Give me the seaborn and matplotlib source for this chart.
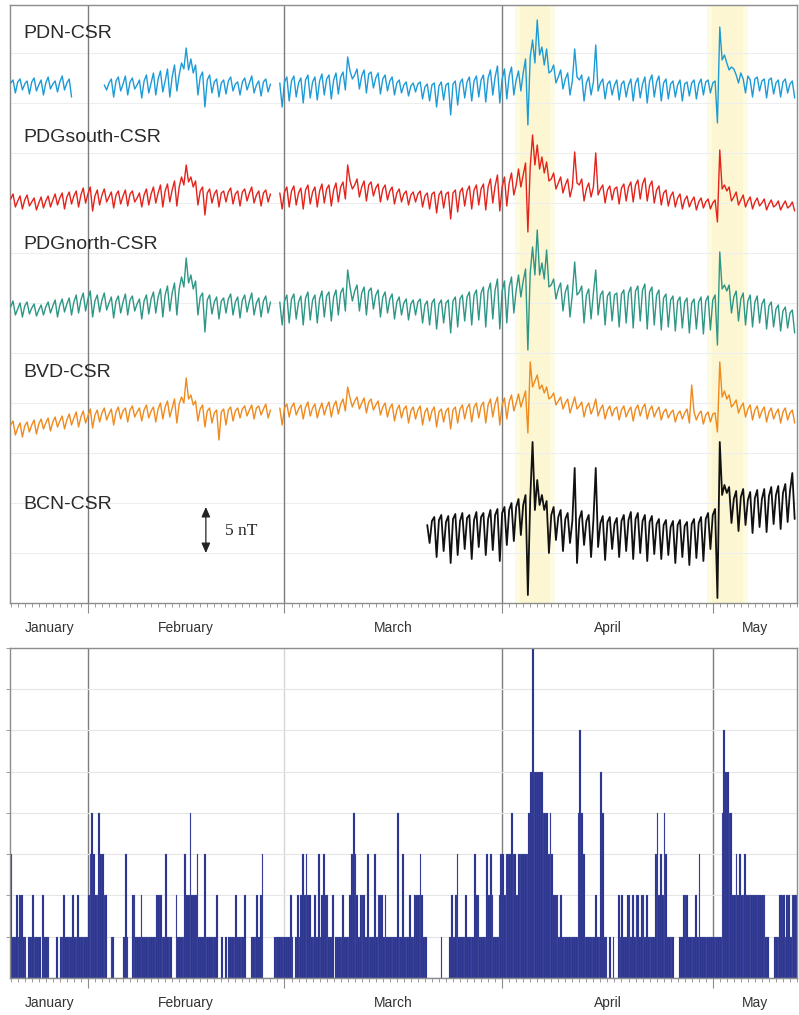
import numpy as np
import pandas as pd
import matplotlib
matplotlib.use("Agg")
import matplotlib.pyplot as plt
import seaborn as sns

nan = np.nan

# ---------------------------------------------
# DATA  (day 0 = 21 January, record ends mid May)
# ---------------------------------------------
MONTHS       = ["January", "February", "March", "April", "May"]
MONTH_STARTS = [0, 11, 39, 70, 100, 112]
STORMS       = [(72.6, 76.8), (99.9, 104.3)]     # highlighted disturbed periods (days)

STATIONS = ["PDN-CSR", "PDGsouth-CSR", "PDGnorth-CSR", "BVD-CSR", "BCN-CSR"]

# field residuals in nT, three samples per day (00h, 08h, 16h), one line = one week
pdn = [
    (0.2, 0.5, -0.8), (0.3, 0.6, -0.5), (0.1, 0.4, -0.9), (0.3, 0.7, -0.6), (0.0, 0.5, -1.0), (0.2, 0.8, -0.4), (0.1, 0.4, -0.7),
    (0.3, 0.9, -0.5), (0.2, 0.6, -1.2), (nan, nan, nan), (nan, nan, nan), (nan, nan, nan), (nan, nan, nan), (nan, 0.0, -0.5),
    (0.2, 0.6, -1.2), (0.4, 0.8, -0.6), (0.1, 0.9, -1.0), (0.3, 0.7, -0.4), (0.0, 0.5, -1.3), (0.4, 1.0, -0.8), (0.2, 1.2, -1.0),
    (0.6, 1.4, -0.7), (0.4, 1.6, -1.2), (0.8, 2.0, -0.6), (1.0, 2.2, 1.6), (3.7, 1.5, 2.6), (1.2, 2.0, -1.0), (0.8, 1.3, -2.2),
    (0.5, 1.0, -0.8), (0.3, 0.6, -1.2), (0.2, 0.5, -0.9), (0.4, 0.8, -0.6), (0.1, 0.3, -1.0), (0.3, 0.7, -0.5), (0.2, 0.9, -0.8),
    (0.0, 0.4, -1.1), (0.3, 0.6, -0.7), (0.1, nan, nan), (nan, 0.2, -2.2), (0.3, 0.8, -1.6), (0.4, 0.9, -1.2), (0.2, 0.7, -1.8),
    (0.5, 1.0, -1.3), (0.3, 0.8, -1.5), (0.4, 1.1, -1.0), (0.6, 1.0, -1.4), (0.5, 1.2, -0.9), (0.8, 1.3, -0.5), (2.8, 1.4, 0.6),
    (1.0, 1.6, -0.4), (0.9, 1.5, -0.8), (1.1, 1.3, -0.3), (0.7, 1.2, -0.9), (0.6, 1.0, -0.6), (0.4, 0.8, -1.0), (0.2, 0.5, -0.8),
    (0.0, 0.3, -1.1), (-0.1, 0.2, -0.7), (0.1, 0.3, -1.4), (-0.2, 0.1, -1.6), (0.0, 0.2, -2.2), (-0.1, 0.3, -1.5), (0.0, 0.2, -3.0),
    (0.1, 0.4, -2.0), (0.2, 0.6, -1.3), (0.3, 0.8, -1.6), (0.4, 0.9, -1.2), (0.5, 1.0, -1.7), (0.7, 1.5, -1.0), (0.8, 1.9, -1.8),
    (0.6, 1.6, -1.4), (0.9, 1.8, -1.0), (0.5, 1.4, -0.6), (1.2, 2.6, -4.0), (2.8, 4.5, 2.2), (6.5, 3.0, 3.8), (2.0, 3.6, 1.2),
    (1.4, 2.0, 0.2), (0.8, 1.5, -0.4), (0.6, 1.2, -1.0), (0.4, 3.6, 0.8), (0.5, 1.0, -1.6), (0.2, 0.8, -1.0), (0.3, 4.0, -0.6),
    (0.2, 0.6, -1.4), (0.1, 0.4, -1.0), (0.0, 0.5, -1.5), (0.1, 0.4, -1.2), (0.0, 0.6, -1.6), (0.2, 0.7, -1.3), (0.1, 0.8, -1.8),
    (0.4, 1.0, -1.2), (0.3, 0.9, -1.6), (0.2, 0.6, -1.4), (0.1, 0.4, -1.2), (0.0, 0.5, -1.6), (0.1, 0.3, -1.1), (0.2, 0.5, -1.4),
    (0.1, 0.6, -1.0), (0.3, 0.5, -0.8), (0.2, 0.4, -3.8), (5.8, 2.5, 3.0), (2.2, 1.5, 1.8), (1.6, 1.0, 0.2), (1.2, 0.6, -0.8),
    (0.9, 0.5, -1.2), (0.6, 0.8, -0.6), (0.4, 0.6, -1.3), (0.5, 0.7, -0.9), (0.2, 0.5, -1.2), (0.3, 0.6, -0.8), (0.1, 0.4, -1.3),
]

pdg_south = [
    (-0.2, 0.3, -1.0), (-0.4, 0.1, -1.2), (-0.3, 0.2, -0.9), (-0.5, -0.1, -1.3), (-0.6, 0.0, -1.1), (-0.4, 0.1, -1.0), (-0.3, 0.3, -0.8),
    (-0.1, 0.4, -1.2), (0.0, 0.5, -0.7), (0.1, 0.6, -1.0), (0.2, 0.9, -0.6), (0.3, 1.0, -1.4), (0.1, 0.7, -0.8), (0.2, 0.8, -0.5),
    (0.0, 0.5, -1.1), (0.2, 0.6, -0.7), (0.1, 0.7, -0.9), (0.3, 0.6, -0.5), (-0.1, 0.4, -1.0), (0.2, 0.8, -0.8), (0.3, 1.0, -0.6),
    (0.4, 1.2, -1.0), (0.6, 1.3, -0.5), (0.7, 1.6, -0.9), (1.0, 2.0, 1.2), (3.2, 1.5, 2.0), (1.0, 1.6, -0.8), (0.6, 1.0, -1.8),
    (0.4, 0.8, -0.6), (0.3, 0.7, -1.0), (0.4, 0.6, -0.5), (0.5, 0.9, -0.7), (0.3, 0.6, -0.9), (0.5, 0.8, -0.4), (0.4, 1.0, -0.6),
    (0.2, 0.6, -0.9), (0.4, 0.7, -0.5), (0.3, nan, nan), (nan, 0.4, -1.2), (0.5, 1.0, -1.0), (0.6, 1.1, -0.8), (0.4, 0.9, -1.2),
    (0.7, 1.2, -0.7), (0.5, 1.0, -1.0), (0.6, 1.3, -0.6), (0.8, 1.2, -0.9), (0.7, 1.4, -0.5), (1.0, 1.5, -0.2), (3.2, 1.6, 0.8),
    (1.2, 1.8, 0.0), (1.0, 1.6, -0.4), (1.2, 1.5, 0.1), (0.9, 1.3, -0.5), (0.8, 1.2, -0.3), (0.6, 1.0, -0.7), (0.4, 0.8, -0.5),
    (0.3, 0.6, -0.8), (0.2, 0.5, -0.5), (0.3, 0.6, -1.0), (0.1, 0.4, -1.2), (0.3, 0.5, -1.6), (0.2, 0.6, -1.1), (0.3, 0.5, -2.2),
    (0.4, 0.7, -1.5), (0.5, 0.9, -0.9), (0.6, 1.1, -1.2), (0.7, 1.2, -0.8), (0.8, 1.3, -1.3), (1.0, 1.8, -0.6), (1.1, 2.2, -1.4),
    (1.0, 2.0, -0.9), (1.4, 2.4, 0.2), (1.2, 2.8, 1.0), (2.2, 3.4, -3.5), (3.0, 6.2, 3.2), (5.2, 2.8, 4.0), (2.4, 3.5, 1.6),
    (1.8, 2.4, 0.8), (1.4, 2.0, 0.4), (1.2, 1.8, 0.0), (1.0, 4.5, 1.4), (1.2, 1.8, -0.4), (0.8, 1.4, 0.0), (1.0, 4.4, 0.2),
    (0.8, 1.2, -0.6), (0.7, 1.1, -0.3), (0.8, 1.0, -0.7), (0.9, 1.3, -0.4), (1.0, 1.5, -0.5), (1.2, 1.7, -0.2), (1.3, 1.9, -0.4),
    (1.1, 1.6, -0.6), (0.7, 1.1, -0.8), (0.4, 0.7, -0.9), (0.1, 0.5, -1.0), (-0.1, 0.3, -1.2), (-0.3, 0.1, -1.0), (-0.4, 0.0, -1.3),
    (-0.5, -0.1, -1.1), (-0.5, -0.2, -1.2), (-0.6, -0.3, -2.5), (4.7, 0.8, 1.2), (0.6, 1.0, -0.4), (0.0, 0.5, -0.8), (-0.3, 0.2, -1.0),
    (-0.4, 0.0, -1.2), (-0.5, -0.1, -0.9), (-0.6, -0.2, -1.3), (-0.7, -0.3, -1.0), (-0.8, -0.4, -1.3), (-0.8, -0.4, -1.1), (-0.9, -0.5, -1.4),
]

pdg_north = [
    (-0.2, 0.4, -1.0), (-0.4, 0.2, -1.2), (-0.1, 0.3, -0.9), (-0.3, 0.1, -1.1), (-0.5, 0.0, -1.0), (-0.2, 0.3, -0.8), (-0.1, 0.5, -1.2),
    (0.0, 0.6, -0.7), (0.1, 0.7, -1.0), (0.3, 1.0, -0.8), (0.5, 1.2, -0.6), (0.6, 1.4, -1.2), (0.4, 1.0, -0.7), (0.5, 1.2, -0.5),
    (0.2, 0.8, -1.3), (0.4, 0.9, -0.8), (0.3, 1.1, -1.0), (0.5, 0.9, -0.6), (0.1, 0.6, -1.4), (0.4, 1.0, -0.9), (0.6, 1.3, -0.8),
    (0.8, 1.6, -1.2), (1.0, 1.9, -0.6), (1.2, 2.2, -1.0), (1.6, 2.8, 1.8), (4.7, 2.2, 3.0), (1.6, 2.4, -1.0), (0.8, 1.2, -2.7),
    (0.5, 1.0, -0.9), (0.3, 0.8, -1.4), (0.4, 0.7, -0.8), (0.6, 1.1, -1.0), (0.3, 0.8, -1.3), (0.5, 1.0, -0.7), (0.4, 1.2, -1.0),
    (0.2, 0.7, -1.2), (0.4, 0.9, -0.8), (0.3, nan, nan), (nan, 0.3, -2.0), (0.4, 1.0, -1.8), (0.6, 1.1, -1.4), (0.3, 0.9, -2.0),
    (0.7, 1.3, -1.5), (0.5, 1.0, -1.8), (0.6, 1.4, -1.2), (0.9, 1.3, -1.6), (0.8, 1.5, -1.0), (1.2, 1.7, -0.6), (3.5, 1.8, 0.4),
    (1.4, 2.0, -0.6), (1.2, 1.8, -1.0), (1.4, 1.7, -0.4), (1.0, 1.5, -1.2), (0.8, 1.3, -0.8), (0.6, 1.1, -1.4), (0.3, 0.8, -1.0),
    (0.2, 0.6, -1.5), (0.1, 0.5, -1.0), (0.3, 0.6, -1.8), (0.0, 0.4, -2.0), (0.2, 0.6, -2.4), (0.1, 0.5, -1.8), (0.2, 0.5, -2.8),
    (0.4, 0.8, -2.2), (0.6, 1.0, -1.6), (0.8, 1.3, -2.0), (1.0, 1.5, -1.5), (1.2, 1.8, -2.2), (1.4, 2.2, -1.4), (1.5, 2.6, -2.4),
    (1.4, 2.4, -1.8), (1.8, 2.8, -0.8), (1.5, 3.0, 0.8), (2.4, 3.6, -4.5), (3.2, 5.8, 3.0), (7.5, 3.0, 4.2), (2.6, 5.5, 1.8),
    (2.0, 2.6, 0.6), (1.6, 2.2, -0.6), (1.3, 2.0, -1.2), (1.1, 4.3, 1.0), (1.3, 1.9, -1.8), (1.0, 1.6, -1.4), (1.2, 3.5, -1.0),
    (1.0, 1.4, -2.0), (0.9, 1.3, -1.6), (1.0, 1.2, -2.2), (1.1, 1.5, -1.8), (1.2, 1.8, -2.3), (1.4, 1.9, -1.6), (1.5, 2.1, -2.4),
    (1.3, 1.8, -2.0), (1.0, 1.5, -2.5), (0.7, 1.1, -2.2), (0.5, 0.9, -2.6), (0.4, 0.8, -2.3), (0.3, 0.7, -2.8), (0.2, 0.6, -2.4),
    (0.3, 0.8, -2.9), (0.4, 0.9, -2.5), (0.5, 1.0, -4.0), (5.3, 1.6, 2.0), (1.4, 2.0, -0.8), (0.8, 1.4, -1.6), (0.6, 1.2, -2.0),
    (0.4, 1.0, -2.2), (0.3, 0.9, -1.8), (0.1, 0.6, -2.4), (-0.1, 0.3, -2.2), (-0.4, 0.0, -2.6), (-0.6, -0.2, -2.3), (-0.8, -0.5, -2.8),
]

bvd = [
    (-1.2, -0.8, -2.2), (-1.5, -1.0, -2.4), (-1.3, -0.9, -1.9), (-1.2, -0.7, -2.1), (-1.1, -0.6, -1.6), (-1.0, -0.5, -1.8), (-0.9, -0.4, -1.4),
    (-0.8, -0.3, -1.6), (-0.7, -0.1, -1.2), (-0.5, 0.1, -1.4), (-0.4, 0.2, -1.0), (-0.3, 0.4, -1.5), (-0.2, 0.3, -0.9), (0.0, 0.5, -0.7),
    (-0.1, 0.4, -1.2), (0.1, 0.6, -0.6), (0.2, 0.5, -0.9), (0.3, 0.7, -0.4), (0.1, 0.5, -0.8), (0.3, 0.8, -0.5), (0.2, 0.6, -0.9),
    (0.4, 1.0, -0.6), (0.6, 1.2, -0.4), (0.5, 1.4, -1.0), (0.9, 1.6, 1.0), (3.5, 1.4, 1.8), (0.8, 1.2, -0.8), (0.4, 0.8, -1.4),
    (0.2, 0.5, -1.0), (0.0, 0.3, -2.7), (0.1, 0.4, -1.2), (0.3, 0.6, -0.8), (0.2, 0.5, -0.5), (0.4, 0.7, -0.3), (0.3, 0.8, -0.6),
    (0.5, 0.7, -0.2), (0.4, 0.9, -0.5), (0.3, nan, nan), (nan, 0.5, -1.2), (0.5, 0.9, -0.4), (0.6, 1.0, -0.2), (0.4, 0.8, -0.6),
    (0.6, 1.1, -0.3), (0.5, 0.9, -0.5), (0.4, 1.0, -0.2), (0.6, 1.1, -0.4), (0.7, 1.2, -0.1), (0.9, 1.4, 0.2), (2.6, 1.5, 0.6),
    (1.2, 1.6, 0.4), (1.0, 1.5, 0.0), (1.1, 1.4, 0.3), (0.8, 1.2, -0.2), (0.6, 1.0, -0.4), (0.5, 0.9, -0.8), (0.3, 0.8, -0.5),
    (0.4, 0.7, -1.0), (0.2, 0.6, -0.6), (0.3, 0.7, -1.2), (0.1, 0.5, -0.8), (0.2, 0.6, -1.4), (0.1, 0.4, -0.9), (0.2, 0.5, -1.6),
    (0.3, 0.6, -1.0), (0.4, 0.8, -0.6), (0.5, 0.9, -0.9), (0.6, 1.0, -0.5), (0.7, 1.1, -1.0), (0.8, 1.4, -0.4), (0.9, 1.6, -1.2),
    (0.8, 1.5, -0.6), (1.1, 1.8, 0.2), (1.0, 1.9, 0.6), (1.4, 2.2, -2.0), (5.1, 2.6, 3.2), (3.8, 2.4, 2.8), (2.0, 2.6, 1.4),
    (1.6, 2.0, 0.8), (1.2, 1.6, 0.4), (1.0, 1.4, 0.0), (0.8, 1.6, 0.4), (0.7, 1.1, -0.4), (0.6, 1.0, -0.1), (0.5, 1.4, -0.3),
    (0.4, 0.8, -0.6), (0.3, 0.7, -0.3), (0.4, 0.6, -0.7), (0.3, 0.7, -0.4), (0.2, 0.6, -0.8), (0.4, 0.8, -0.3), (0.5, 0.9, -0.6),
    (0.3, 0.7, -0.4), (0.2, 0.6, -0.7), (0.1, 0.4, -0.5), (0.0, 0.3, -0.9), (-0.1, 0.2, -0.6), (0.0, 0.4, -1.0), (2.8, 0.1, -0.7),
    (-0.1, 0.2, -1.1), (-0.2, 0.1, -0.9), (-0.1, 0.0, -1.9), (5.1, 1.6, 2.2), (1.4, 1.8, 0.6), (0.9, 1.3, 0.0), (0.6, 1.0, -0.4),
    (0.4, 0.8, -0.7), (0.3, 0.7, -0.5), (0.2, 0.6, -0.9), (0.1, 0.5, -0.6), (0.0, 0.4, -1.0), (0.1, 0.5, -0.7), (0.0, 0.3, -1.0),
]

# Barcelona record starts on 19 March
bcn = [(nan, nan, nan)] * 59 + [
    (nan, 0.0, -1.8),
    (0.4, 0.8, -3.2), (0.5, 1.0, -2.6), (0.3, 0.9, -3.8), (0.6, 1.1, -3.0), (0.4, 1.2, -2.4),
    (0.7, 1.0, -3.4), (0.5, 1.3, -2.2), (0.8, 1.2, -3.0), (0.6, 1.5, -2.5), (1.0, 1.6, -3.6),
    (1.2, 1.8, -2.0), (1.5, 2.2, -1.6), (1.8, 2.6, -1.0), (2.0, 3.0, -7.0), (2.6, 8.3, 1.5), (4.5, 2.0, 3.0), (1.5, 2.4, -2.8),
    (1.0, 1.8, -1.5), (0.8, 1.5, -2.6), (0.6, 1.2, -1.8), (0.4, 5.7, -3.8), (0.6, 1.4, -2.0), (0.4, 1.0, -3.2), (0.5, 5.7, -2.2),
    (0.2, 0.9, -3.5), (0.3, 0.8, -2.4), (0.1, 0.7, -3.2), (0.4, 1.0, -2.6), (0.5, 1.3, -3.4), (0.6, 1.2, -2.8), (0.4, 1.0, -3.6),
    (0.3, 0.9, -2.9), (0.1, 0.6, -3.4), (0.0, 0.5, -3.0), (-0.2, 0.4, -3.8), (0.0, 0.5, -3.2), (-0.1, 0.3, -4.0), (0.1, 0.6, -3.3),
    (0.2, 0.8, -3.6), (0.6, 1.2, -2.4), (1.0, 1.6, -7.3), (8.3, 3.0, 4.0), (3.2, 3.8, 0.2), (2.6, 3.4, -0.6), (2.8, 3.6, 0.0),
    (2.5, 3.3, -0.8), (2.7, 3.5, -0.2), (2.6, 3.6, -0.7), (2.9, 3.8, 0.1), (3.0, 3.9, -0.4), (3.2, 4.1, 0.3), (3.4, 5.2, 0.6),
]

# number of events per 6-hour window, four windows per day
counts_jan = [3, 1, 1, 2,  1, 2, 2, 1,  1, 0, 1, 1,  2, 1, 1, 1,  1, 0, 2, 1,  1, 1, 0, 0,
              0, 0, 1, 0,  1, 1, 2, 1,  1, 1, 1, 2,  1, 1, 2, 1,  1, 1, 1, 1]
counts_feb = [2, 3, 4, 3,  2, 2, 4, 3,  3, 2, 2, 0,  0, 1, 1, 0,  0, 0, 0, 0,  1, 3, 1, 0,
              0, 2, 2, 1,  1, 1, 2, 1,  1, 1, 1, 1,  1, 1, 1, 2,  2, 2, 1, 1,  3, 1, 1, 1,
              0, 0, 2, 1,  1, 1, 1, 3,  2, 2, 4, 2,  2, 2, 3, 1,  1, 1, 3, 1,  1, 1, 1, 1,
              1, 2, 0, 0,  1, 0, 1, 0,  1, 1, 1, 1,  2, 1, 1, 1,  1, 2, 0, 0,  0, 1, 1, 1,
              2, 1, 2, 3,  0, 0, 0, 0,  0, 0, 1, 1,  1, 1, 1, 1]
counts_mar = [1, 1, 1, 2,  1, 0, 1, 2,  1, 2, 3, 2,  3, 2, 2, 1,  1, 2, 1, 3,  1, 2, 3, 2,
              2, 1, 1, 2,  0, 1, 1, 1,  1, 2, 1, 1,  1, 2, 3, 4,  3, 2, 1, 2,  2, 2, 1, 3,
              1, 1, 1, 3,  1, 2, 2, 2,  1, 2, 1, 1,  1, 1, 1, 1,  4, 1, 1, 3,  1, 1, 1, 2,
              1, 1, 2, 2,  2, 3, 2, 1,  1, 0, 0, 0,  0, 0, 0, 0,  0, 1, 0, 0,  0, 0, 1, 2,
              1, 2, 3, 1,  1, 1, 1, 2,  1, 1, 1, 1,  3, 2, 2, 1,  1, 1, 1, 3,  2, 3, 2, 1,
              1, 1, 2, 3]
counts_apr = [3, 2, 3, 3,  3, 4, 3, 3,  2, 3, 3, 3,  3, 3, 3, 4,  5, 8, 5, 5,  5, 5, 5, 4,
              4, 4, 3, 4,  3, 2, 2, 2,  1, 2, 1, 1,  1, 1, 1, 1,  1, 1, 1, 4,  6, 4, 3, 1,
              1, 1, 1, 1,  1, 2, 1, 1,  5, 4, 1, 1,  0, 1, 0, 1,  0, 0, 2, 1,  2, 1, 1, 2,
              2, 1, 2, 1,  2, 2, 1, 2,  2, 1, 2, 1,  1, 1, 1, 3,  4, 2, 3, 2,  4, 3, 1, 1,
              1, 1, 0, 0,  0, 1, 1, 2,  2, 2, 1, 1,  1, 1, 2, 1,  3, 1, 1, 1,  1, 1, 1, 1]
counts_may = [1, 1, 1, 1,  1, 4, 6, 5,  5, 4, 4, 2,  2, 3, 2, 3,  2, 2, 3, 2,  2, 2, 2, 2,
              2, 2, 2, 2,  2, 2, 1, 1,  0, 0, 0, 1,  1, 1, 2, 2,  2, 1, 2, 2,  1, 2, 2, 2]

# ---------------------------------------------
# LAYOUT / STYLE
# ---------------------------------------------
COLORS  = ["#1d9bd7", "#e3231c", "#2e9686", "#ee8a1e", "#111111"]
WIDTHS  = [1.0, 1.0, 1.0, 1.0, 1.3]
OFFSETS = [51.8, 40.6, 29.8, 19.0, 7.8]          # vertical stacking of the traces (nT)
LABEL_Y = [0.953, 0.779, 0.599, 0.386, 0.164]    # label heights, axes fraction
BAR_COLOR = "#27318b"
GRID_GREY = "#8c8c8c"


def station_frame(name, triples, offset):
    vals = np.array(triples, dtype=float).ravel()
    day = np.arange(vals.size) / 3.0
    seg = np.cumsum(np.isnan(vals))
    df = pd.DataFrame({"day": day, "nT": vals + offset, "station": name,
                       "seg": [f"{name}-{s}" for s in seg]})
    return df.dropna()


def style_time_axis(ax, label_pad_px, height_px):
    ax.set_xlim(-0.1, 112)
    ax.set_xticks(MONTH_STARTS[1:-1])
    ax.set_xticks(np.arange(0, 113), minor=True)
    ax.tick_params(axis="x", which="major", bottom=True, length=7, width=0.8,
                   color=GRID_GREY, labelbottom=False)
    ax.tick_params(axis="x", which="minor", bottom=True, length=3, width=0.6,
                   color=GRID_GREY)
    for sp in ax.spines.values():
        sp.set_visible(True)
        sp.set_color(GRID_GREY)
        sp.set_linewidth(1.0)
    trans = ax.get_xaxis_transform()
    for name, a, b in zip(MONTHS, MONTH_STARTS[:-1], MONTH_STARTS[1:]):
        ax.text((a + b) / 2, -label_pad_px / height_px, name, transform=trans,
                ha="center", va="center", fontsize=10, color="#333333")
    ax.set_xlabel("")
    ax.set_ylabel("")


sns.set_theme(style="white")
plt.rcParams["font.family"] = ["Liberation Sans", "DejaVu Sans"]

fig = plt.figure(figsize=(7.99, 10.15), dpi=100)
ax_top = fig.add_axes([0.0125, 0.4059, 0.985, 0.5892])
ax_bot = fig.add_axes([0.0125, 0.0365, 0.985, 0.3251])

# ----------------------------------------------
# TOP: magnetic field residuals
# ----------------------------------------------
series = [pdn, pdg_south, pdg_north, bvd, bcn]
lines = pd.concat([station_frame(n, s, o) for n, s, o in zip(STATIONS, series, OFFSETS)],
                  ignore_index=True)

for a, b in STORMS:
    ax_top.axvspan(a - 0.7, b + 0.7, color="#fefbe3", lw=0, zorder=0)
    ax_top.axvspan(a, b, color="#fcf7d2", lw=0, zorder=0)

for d in MONTH_STARTS[1:4]:
    ax_top.axvline(d, color="#7d7d7d", lw=1.0, zorder=1)

sns.lineplot(data=lines, x="day", y="nT", hue="station", size="station", units="seg",
             estimator=None, sort=False, palette=dict(zip(STATIONS, COLORS)),
             sizes=dict(zip(STATIONS, WIDTHS)), legend=False, ax=ax_top, zorder=3)

ax_top.set_ylim(0, 59.8)
ax_top.set_yticks(np.arange(5, 59, 5))
ax_top.yaxis.grid(True, color="#eeeeee", lw=0.8)
ax_top.tick_params(axis="y", left=False, labelleft=False)

for name, y in zip(STATIONS, LABEL_Y):
    ax_top.text(0.0165, y, name, transform=ax_top.transAxes, fontsize=14,
                va="center", ha="left", color="#2b2b2b")

# 5 nT scale bar
ax_top.annotate("", xy=(27.8, 9.6), xytext=(27.8, 5.0),
                arrowprops=dict(arrowstyle="<|-|>,head_length=0.5,head_width=0.22",
                                color="#222222", lw=0.9, shrinkA=0, shrinkB=0))
ax_top.text(30.5, 7.2, "5 nT", family=["Liberation Serif", "DejaVu Serif"],
            fontsize=12.5, va="center", ha="left", color="#222222")

style_time_axis(ax_top, 25, 598)

# ----------------------------------------------
# BOTTOM: event counts
# ----------------------------------------------
counts = np.array(counts_jan + counts_feb + counts_mar + counts_apr + counts_may, dtype=float)
events = pd.DataFrame({"day": (np.arange(counts.size) + 0.5) / 4.0, "count": counts})

for d, c in zip(MONTH_STARTS[1:5], ["#7d7d7d", "#d6d6d6", "#7d7d7d", "#7d7d7d"]):
    ax_bot.axvline(d, color=c, lw=1.0, zorder=0.5)

sns.histplot(data=events, x="day", weights="count", binwidth=0.25, binrange=(0, 112),
             color=BAR_COLOR, alpha=1, edgecolor="#6a73b5", linewidth=0.15, ax=ax_bot)

ax_bot.set_ylim(0, 8)
ax_bot.set_yticks(range(1, 9))
ax_bot.yaxis.grid(True, color="#e6e6e6", lw=0.8)
ax_bot.set_axisbelow(True)
ax_bot.tick_params(axis="y", left=True, length=3, width=0.6, color=GRID_GREY,
                   labelleft=False)

style_time_axis(ax_bot, 25, 330)

fig.savefig("out.png", dpi=100)
